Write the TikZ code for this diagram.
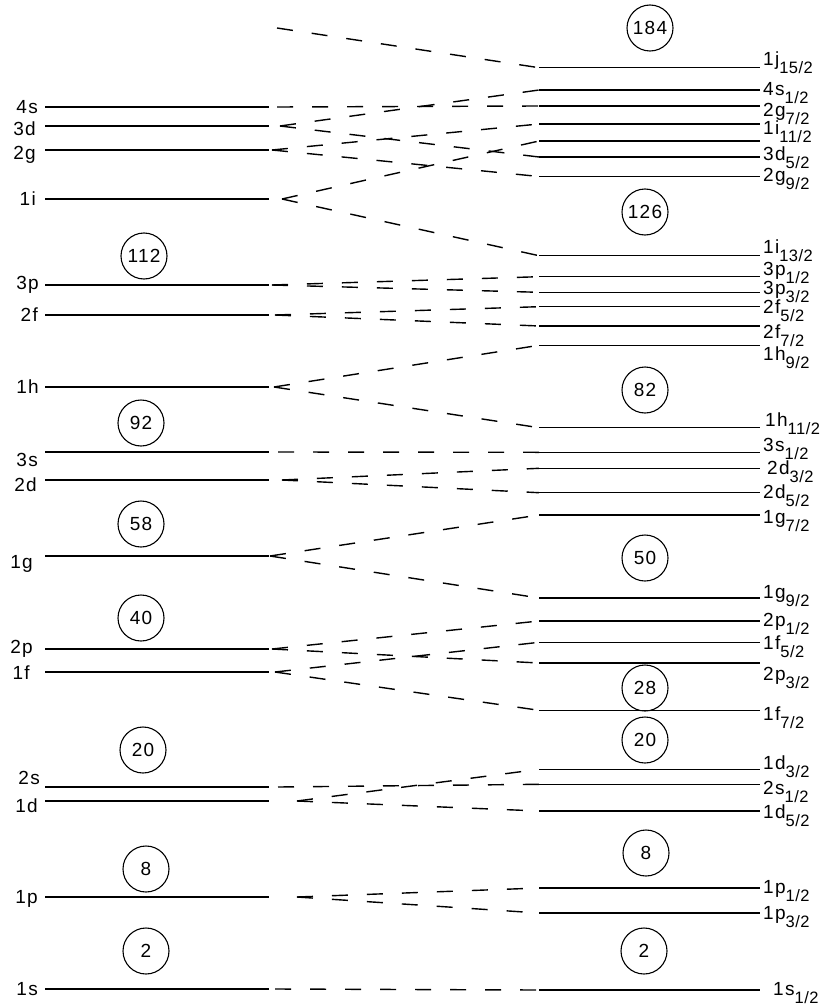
\documentclass[tikz,border=0pt]{standalone}
\usepackage{fontspec}
\setmainfont{Liberation Sans}[LetterSpace=7]
\newfontfamily\subfont{Liberation Sans}[LetterSpace=3]
\newcommand\sbs[1]{\raisebox{-8pt}{\subfont\fontsize{16.5}{16.5}\selectfont #1/2}}
\begin{document}
\begin{tikzpicture}[x=1pt,y=-1pt,
  level/.style={line width=1.3pt},
  link/.style={line width=1.4pt,dash pattern=on 16pt off 19pt},
  magic/.style={circle,draw,line width=1.1pt,minimum size=46pt,inner sep=0pt,font=\fontsize{19}{19}\selectfont},
  llab/.style={anchor=base east,inner sep=0pt,font=\fontsize{19}{19}\selectfont},
  rlab/.style={anchor=base west,inner sep=0pt,font=\fontsize{19}{19}\selectfont}]
\useasboundingbox (0,0) rectangle (827,1006);
% left levels
\foreach \n/\y/\ly/\lx/\dx in {4s/107/107/38/277, 3d/126/129/36/280, 2g/150/153/36/272, 1i/199/199/36/282,
  3p/285/283/39/272, 2f/315/315/38/275, 1h/387/387/39/274, 3s/452/460/38/278, 2d/480/485/37/282,
  1g/556/562/33/270, 2p/649/647/33/272, 1f/672/673/30/275, 2s/787/778/40/278, 1d/801/806/38/297,
  1p/897/897/38/297, 1s/989/989/38/275}
{
  \draw[level] (45,\y) coordinate (La\n) -- (269,\y) coordinate (Lb\n);
  \coordinate (Ld\n) at (\dx,\y);
  \node[llab] (Lt\n) at (\lx,\ly+6.8) {\n};
}
% right levels
\foreach \n/\y/\ly/\lx/\m/\s in {1j15/67.7/59/763/1j/15, 4s1/90/89/763/4s/1, 2g7/106/110/763/2g/7,
  1i11/124/128/763/1i/11, 3d5/157/154/763/3d/5, 2g9/176.5/175/763/2g/9, 1i13/255.7/247/763/1i/13,
  3p1/276.7/269/763/3p/1, 3p3/292.3/287.5/763/3p/3, 2f5/306.7/306.7/763/2f/5, 2f7/326/332/763/2f/7,
  1h9/345.3/354/763/1h/9, 1h11/427.7/420/765/1h/11, 3s1/452.3/445/763/3s/1, 2d3/468.3/468/767/2d/3,
  2d5/492.7/491.7/763/2d/5, 1g7/515/517/763/1g/7, 1g9/598/592/763/1g/9, 2p1/621/620/763/2p/1,
  1f5/642.3/643/763/1f/5, 2p3/663/674/763/2p/3, 1f7/710.3/714/763/1f/7, 1d3/769.3/763/763/1d/3,
  2s1/784.3/787.5/763/2s/1, 1d5/811/811.7/763/1d/5, 1p1/888/887/763/1p/1, 1p3/913/913/763/1p/3,
  1s1/990/989/773/1s/1}
{
  \draw[level] (539,\y) coordinate (Ra\n) -- (760,\y) coordinate (Rb\n);
  \node[rlab] (Rt\n) at (\lx,\ly+6.8) {\m\sbs{\s}};
}
\draw[level] (539,141) coordinate (Ra3d3) -- (760,141) coordinate (Rb3d3);
% magic numbers
\node[magic] (m184) at (650,28) {184};
\node[magic] (m126) at (645,212) {126};
\node[magic] (m82) at (645,390) {82};
\node[magic] (m50) at (645,558) {50};
\node[magic] (m28) at (645,688) {28};
\node[magic] (m20r) at (645,740) {20};
\node[magic] (m8r) at (646,853) {8};
\node[magic] (m2r) at (644,951) {2};
\node[magic] (m112) at (144,256) {112};
\node[magic] (m92) at (141,423) {92};
\node[magic] (m58) at (141,524) {58};
\node[magic] (m40) at (141,618) {40};
\node[magic] (m20l) at (143,750) {20};
\node[magic] (m8l) at (146,869) {8};
\node[magic] (m2l) at (146,951) {2};
% connectors
\coordinate (top) at (277,28);
\draw[link] (top) -- (Ra1j15);
\draw[link] (Ld4s) -- (Ra2g7);
\draw[link] (Ld3d) -- (Ra4s1);
\draw[link] (Ld3d) -- (Ra3d5);
\draw[link] (Ld2g) -- (Ra1i11);
\draw[link] (Ld2g) -- (Ra2g9);
\draw[link] (Ld1i) -- (Ra3d3);
\draw[link] (Ld1i) -- (Ra1i13);
\draw[link] (Ld3p) -- (Ra3p1);
\draw[link] (Ld3p) -- (Ra3p3);
\draw[link] (Ld2f) -- (Ra2f5);
\draw[link] (Ld2f) -- (Ra2f7);
\draw[link] (Ld1h) -- (Ra1h9);
\draw[link] (Ld1h) -- (Ra1h11);
\draw[link] (Ld3s) -- (Ra3s1);
\draw[link] (Ld2d) -- (Ra2d3);
\draw[link] (Ld2d) -- (Ra2d5);
\draw[link] (Ld1g) -- (Ra1g7);
\draw[link] (Ld1g) -- (Ra1g9);
\draw[link] (Ld2p) -- (Ra2p1);
\draw[link] (Ld2p) -- (Ra2p3);
\draw[link] (Ld1f) -- (Ra1f5);
\draw[link] (Ld1f) -- (Ra1f7);
\draw[link] (Ld2s) -- (Ra2s1);
\draw[link] (Ld1d) -- (Ra1d3);
\draw[link] (Ld1d) -- (Ra1d5);
\draw[link] (Ld1p) -- (Ra1p1);
\draw[link] (Ld1p) -- (Ra1p3);
\draw[link] (Ld1s) -- (Ra1s1);
\end{tikzpicture}
\end{document}
